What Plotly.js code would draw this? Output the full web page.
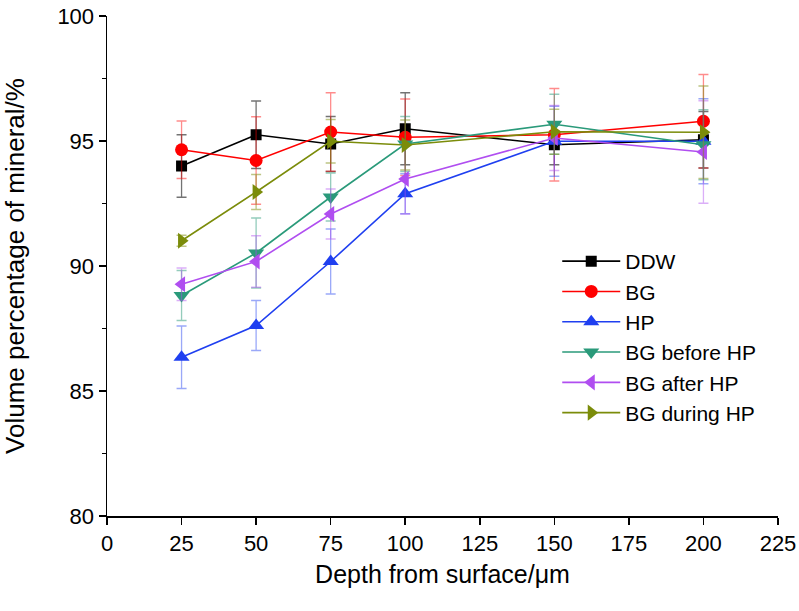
<!DOCTYPE html>
<html>
<head>
<meta charset="utf-8">
<script src="https://cdn.plot.ly/plotly-3.0.1.min.js"></script>
<style>html,body{margin:0;padding:0;background:#fff;}#chart{width:799px;height:611px;}</style>
</head>
<body>
<div id="chart"></div>
<script>
const depth = [25, 50, 75, 100, 150, 200];
const seriesNames = ["DDW", "BG", "HP", "BG before HP", "BG after HP", "BG during HP"];
const ddw = [94.0, 95.25, 94.88, 95.49, 94.85, 95.05];
const ddwErr = [1.25, 1.35, 1.1, 1.44, 0.8, 1.13];
const bg = [94.65, 94.22, 95.36, 95.15, 95.25, 95.79];
const bgErr = [1.15, 1.75, 1.57, 1.53, 1.85, 1.87];
const hp = [86.35, 87.62, 90.18, 92.89, 94.99, 94.99];
const hpErr = [1.25, 1.0, 1.3, 0.8, 1.4, 1.7];
const bgBefore = [88.82, 90.52, 92.76, 94.88, 95.67, 94.85];
const bgBeforeErr = [1.0, 1.4, 0.96, 1.1, 1.2, 1.4];
const bgAfter = [89.27, 90.18, 92.08, 93.48, 95.12, 94.56];
const bgAfterErr = [0.65, 1.03, 1.0, 1.4, 1.3, 2.05];
const bgDuring = [91.01, 92.96, 94.99, 94.84, 95.37, 95.35];
const bgDuringErr = [0.22, 0.7, 0.87, 1.0, 0.9, 1.85];
const xTicks = [0, 25, 50, 75, 100, 125, 150, 175, 200, 225];
const yTicks = [80, 85, 90, 95, 100];

const values = [ddw, bg, hp, bgBefore, bgAfter, bgDuring];
const errs = [ddwErr, bgErr, hpErr, bgBeforeErr, bgAfterErr, bgDuringErr];
const colors = ["#000000", "#ff0000", "#1f3ff0", "#2a9a7a", "#b04ef0", "#7b8c0a"];
const errColors = ["rgba(0,0,0,0.55)", "rgba(255,0,0,0.45)", "rgba(31,63,240,0.45)",
                   "rgba(42,154,122,0.5)", "rgba(176,78,240,0.45)", "rgba(123,140,10,0.5)"];
const symbols = ["square", "circle", "triangle-up", "triangle-down", "triangle-left", "triangle-right"];
const sizes = [11, 13, 14, 14, 14, 14];

const traces = seriesNames.map((n, i) => ({
  type: "scatter",
  mode: "lines+markers",
  name: n,
  x: depth,
  y: values[i],
  line: {color: colors[i], width: 1.6},
  marker: {symbol: symbols[i], size: sizes[i], color: colors[i]},
  error_y: {type: "data", array: errs[i], visible: true, color: errColors[i], thickness: 1.3, width: 5}
}));

const font = "'Liberation Sans', Arial, sans-serif";
const layout = {
  width: 799, height: 611,
  margin: {l: 107, r: 21, t: 16, b: 95},
  paper_bgcolor: "#fff", plot_bgcolor: "#fff",
  font: {family: font, color: "#000", size: 22},
  showlegend: true,
  legend: {
    x: 0.671, y: 0.55, xanchor: "left", yanchor: "top",
    bgcolor: "rgba(0,0,0,0)", borderwidth: 0,
    font: {family: font, size: 21, color: "#000"},
    itemwidth: 58, tracegroupgap: 0
  },
  xaxis: {
    range: [0, 225], tickvals: xTicks, ticktext: xTicks.map(String),
    ticks: "outside", ticklen: 7, tickwidth: 1.5, tickcolor: "#000",
    showline: true, linecolor: "#000", linewidth: 1.5, mirror: false,
    showgrid: false, zeroline: false,
    tickfont: {family: font, size: 22, color: "#000"},
    title: {text: "Depth from surface/μm", font: {family: font, size: 25, color: "#000"}, standoff: 10}
  },
  yaxis: {
    range: [80, 100], tickvals: yTicks, ticktext: yTicks.map(String),
    ticks: "outside", ticklen: 7, tickwidth: 1.5, tickcolor: "#000",
    minor: {dtick: 2.5, tick0: 80, ticks: "outside", ticklen: 4, tickwidth: 1.5, tickcolor: "#000", showgrid: false},
    showline: true, linecolor: "#000", linewidth: 1.5, mirror: false,
    showgrid: false, zeroline: false,
    tickfont: {family: font, size: 22, color: "#000"},
    title: {text: "Volume percentage of mineral/%", font: {family: font, size: 26, color: "#000"}, standoff: 26}
  }
};

Plotly.newPlot("chart", traces, layout, {displayModeBar: false, staticPlot: true});
</script>
</body>
</html>
